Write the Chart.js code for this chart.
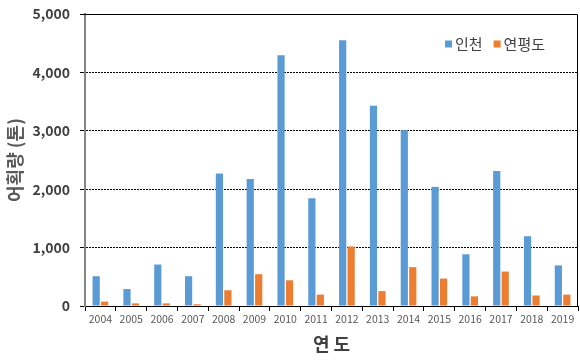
<!DOCTYPE html>
<html>
<head>
<meta charset="utf-8">
<script src="https://cdn.jsdelivr.net/npm/chart.js@4/dist/chart.umd.min.js"></script>
<style>
  html, body { margin: 0; padding: 0; background: #fff; }
</style>
</head>
<body>
<canvas id="c" width="580" height="360"></canvas>
<script>
  const years = ["2004","2005","2006","2007","2008","2009","2010","2011","2012","2013","2014","2015","2016","2017","2018","2019"];
  const incheon = [510, 290, 710, 510, 2270, 2175, 4295, 1845, 4550, 3430, 3010, 2040, 885, 2310, 1195, 695];
  const yeonpyeong = [75, 45, 45, 30, 270, 545, 440, 195, 1020, 255, 665, 470, 165, 590, 180, 195];
  const yTicks = [0, 1000, 2000, 3000, 4000, 5000];

  const KFONT = "'Noto Sans CJK KR', 'Noto Sans', sans-serif";

  // 위/오른쪽 테두리 + 차트 안쪽 범례
  const frameAndLegend = {
    id: "frameAndLegend",
    afterDraw(chart) {
      const ctx = chart.ctx;
      const area = chart.chartArea;
      ctx.save();
      ctx.strokeStyle = "#000";
      ctx.lineWidth = 1;
      ctx.beginPath();
      ctx.moveTo(area.left - 5, area.top + 0.5);
      ctx.lineTo(area.right - 0.5, area.top + 0.5);
      ctx.lineTo(area.right - 0.5, area.bottom);
      ctx.stroke();

      let x = area.right - 133;
      const y = area.top + 30;
      ctx.font = "15px " + KFONT;
      ctx.textBaseline = "middle";
      chart.data.datasets.forEach(ds => {
        ctx.fillStyle = ds.backgroundColor;
        ctx.fillRect(x, y - 3.5, 7, 7);
        ctx.fillStyle = "#404040";
        ctx.fillText(ds.label, x + 10, y);
        x += 10 + ctx.measureText(ds.label).width + 11;
      });
      ctx.restore();
    }
  };

  new Chart(document.getElementById("c"), {
    type: "bar",
    data: {
      labels: years,
      datasets: [
        { label: "인천", data: incheon, backgroundColor: "#5B9BD5" },
        { label: "연평도", data: yeonpyeong, backgroundColor: "#ED7D31" }
      ]
    },
    options: {
      responsive: false,
      animation: false,
      devicePixelRatio: 1,
      categoryPercentage: 0.55,
      barPercentage: 0.85,
      layout: { padding: { left: 0, right: 2, top: 14, bottom: 0 } },
      plugins: {
        legend: { display: false },
        tooltip: { enabled: false }
      },
      scales: {
        x: {
          grid: { offset: true, drawOnChartArea: false, color: "#000", tickLength: 5 },
          border: { color: "#000", width: 1 },
          ticks: { color: "#595959", font: { size: 10.5, family: KFONT }, padding: 2, maxRotation: 0, autoSkip: false },
          title: { display: true, text: "연 도", color: "#404040", font: { size: 18, weight: "bold", family: KFONT }, padding: { top: 0, bottom: 5 } },
          afterFit(s) { s.height = 54; s.paddingLeft = 0; s.paddingRight = 0; }
        },
        y: {
          min: 0, max: 5000,
          afterBuildTicks(s) { s.ticks = yTicks.map(v => ({ value: v })); },
          grid: { color: "#000", lineWidth: 1, tickLength: 5 },
          border: { color: "#868686", width: 2, dash: [2, 1] },
          ticks: {
            color: "#404040",
            font: { size: 14, weight: "600", family: KFONT },
            padding: 10,
            callback: v => v.toLocaleString("en-US")
          },
          title: { display: true, text: "어획량 (톤)", color: "#595959", font: { size: 18, weight: "bold", family: KFONT }, padding: { bottom: 4 } },
          afterFit(s) { s.width = 85; s.paddingTop = 0; s.paddingBottom = 0; }
        }
      }
    },
    plugins: [frameAndLegend]
  });
</script>
</body>
</html>
